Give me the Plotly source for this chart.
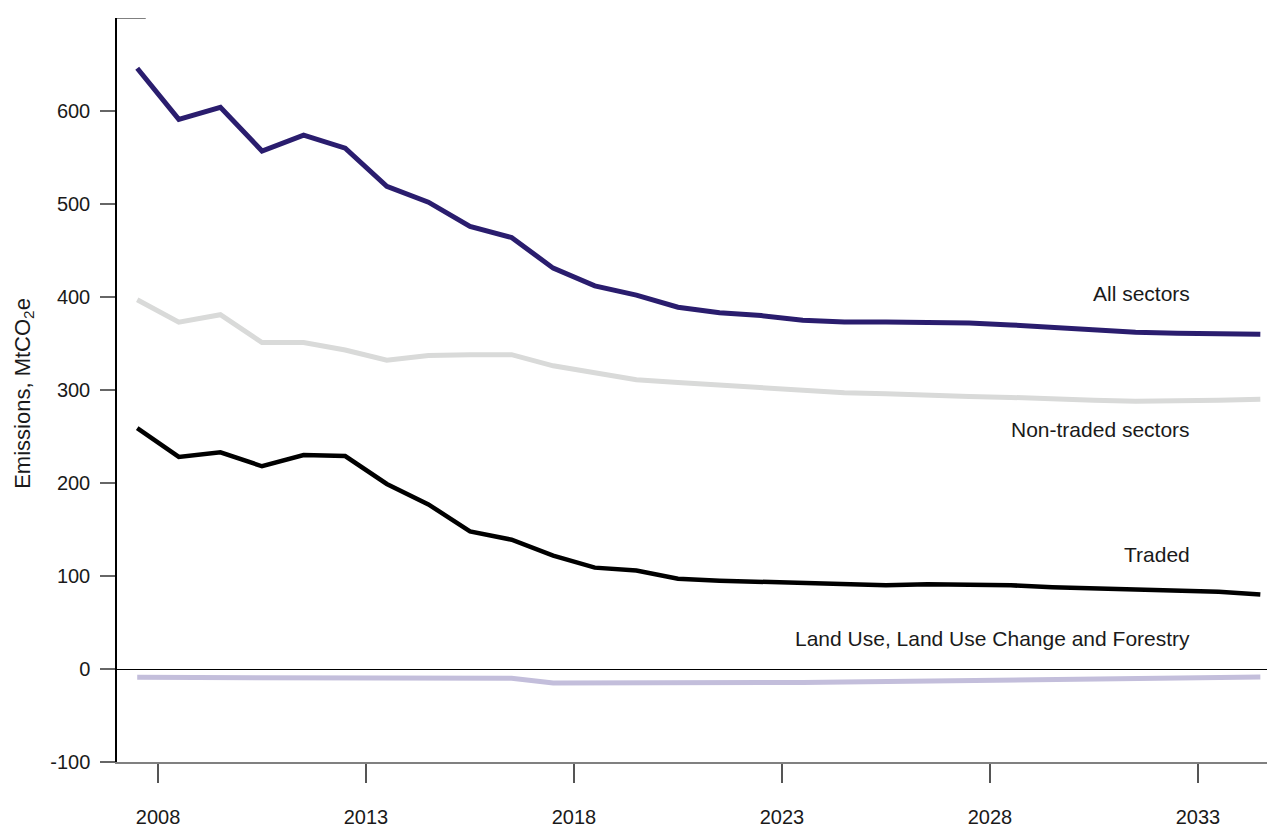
import plotly.graph_objects as go

# Emissions by sector, MtCO2e (one value per year, plotted mid-year)
years = list(range(2007, 2035))
all_sectors = [646, 591, 604, 557, 574, 560, 519, 502, 476, 464, 431, 412, 402, 389,
               383, 380, 375, 373, 373, 373, 372, 370, 367, 365, 362, 361, 360, 360]
non_traded = [397, 373, 381, 351, 351, 343, 332, 337, 338, 338, 326, 318, 311, 308,
              305, 303, 299, 297, 296, 294, 293, 292, 290, 289, 288, 288, 289, 290]
traded = [259, 228, 233, 218, 230, 229, 199, 177, 148, 139, 122, 109, 106, 97,
          95, 94, 93, 91, 90, 91, 91, 90, 88, 87, 86, 85, 83, 80]
lulucf = [-9, -9, -9, -9.5, -9.5, -10, -10, -10, -10, -10, -15, -15, -15.5, -15.5,
          -15, -15, -14.5, -14, -13.5, -13, -12.5, -12, -11.5, -11, -10.5, -10, -9, -8.5]

x_ticks = [2008, 2013, 2018, 2023, 2028, 2033]
y_ticks = [-100, 0, 100, 200, 300, 400, 500, 600]

FONT = "Liberation Sans, Arial, sans-serif"
TEXT = "#1a1a1a"

x_mid = [y + 0.5 for y in years]

series = [
    ("Land Use, Land Use Change and Forestry", lulucf, "#c3bedb", 5),
    ("Non-traded sectors", non_traded, "#d9dad9", 5),
    ("Traded", traded, "#000000", 4.5),
    ("All sectors", all_sectors, "#2a1d6e", 5),
]

fig = go.Figure()
for name, vals, color, width in series:
    fig.add_trace(go.Scatter(
        x=x_mid, y=vals, name=name, mode="lines",
        line=dict(color=color, width=width),
        hoverinfo="x+y+name",
    ))

# Series labels, right-aligned near the end of each line
labels = [
    ("All sectors", 404),
    ("Non-traded sectors", 257),
    ("Traded", 123),
    ("Land Use, Land Use Change and Forestry", 33),
]
for text, ypos in labels:
    fig.add_annotation(x=2032.85, y=ypos, xref="x", yref="y", text=text,
                       showarrow=False, xanchor="right", yanchor="middle",
                       font=dict(family=FONT, size=21, color=TEXT))

# Y-axis title
fig.add_annotation(x=-0.081, y=0.496, xref="paper", yref="paper",
                   text="Emissions, MtCO<sub>2</sub>e", textangle=-90,
                   showarrow=False, xanchor="center", yanchor="middle",
                   font=dict(family=FONT, size=22, color=TEXT))

# Short cap at the top of the value axis
fig.add_shape(type="line", xref="paper", yref="y", x0=0, x1=0.025, y0=700, y1=700,
              line=dict(color="#808080", width=2))

fig.update_layout(
    width=1267, height=827,
    margin=dict(l=117, r=0, t=18, b=65, autoexpand=False),
    paper_bgcolor="white", plot_bgcolor="white",
    showlegend=False,
    font=dict(family=FONT, size=20, color=TEXT),
)
fig.update_xaxes(
    range=[2007.014, 2034.66], tickvals=x_ticks, ticktext=[str(v) for v in x_ticks],
    ticks="outside", ticklen=19, tickwidth=1.5, tickcolor="#555555",
    showline=True, linecolor="#808080", linewidth=2,
    showgrid=False, zeroline=False, ticklabelstandoff=17, automargin=False,
    tickfont=dict(family=FONT, size=20, color=TEXT),
)
fig.update_yaxes(
    range=[-100, 700], tickvals=y_ticks, ticktext=[str(v) for v in y_ticks],
    ticks="outside", ticklen=15, tickwidth=1.5, tickcolor="#666666",
    showline=True, linecolor="#000000", linewidth=1.5,
    showgrid=False, zeroline=True, zerolinecolor="#000000", zerolinewidth=1.2,
    ticklabelstandoff=6, automargin=False,
    tickfont=dict(family=FONT, size=20, color=TEXT),
)

fig.write_html("out.html")
